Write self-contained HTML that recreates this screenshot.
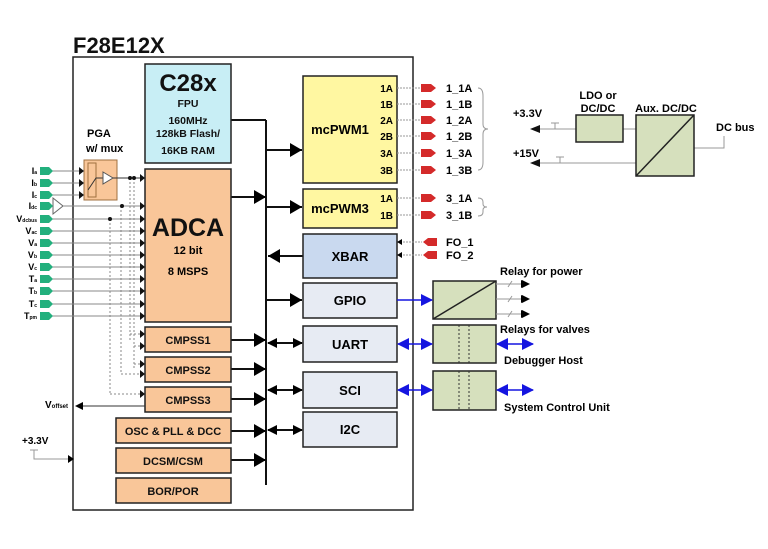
<!DOCTYPE html>
<html><head><meta charset="utf-8"><style>
body{margin:0;background:#fff;}
svg{display:block;font-family:"Liberation Sans",Arial,sans-serif;font-weight:bold;}
</style></head><body>
<svg width="768" height="549" viewBox="0 0 768 549" xmlns="http://www.w3.org/2000/svg">
<defs>
<marker id="a" markerWidth="8" markerHeight="8" refX="7" refY="4" orient="auto" markerUnits="userSpaceOnUse"><path d="M0,0 L8,4 L0,8z" fill="#000"/></marker>
<marker id="A" markerWidth="12" markerHeight="14" refX="12" refY="7" orient="auto" markerUnits="userSpaceOnUse"><path d="M0,0 L12,7 L0,14z" fill="#000"/></marker>
<marker id="b" markerWidth="12" markerHeight="12" refX="11" refY="6" orient="auto-start-reverse" markerUnits="userSpaceOnUse"><path d="M0,0 L12,6 L0,12z" fill="#1515e0"/></marker>
<marker id="k" markerWidth="10" markerHeight="10" refX="9" refY="5" orient="auto-start-reverse" markerUnits="userSpaceOnUse"><path d="M0,0 L10,5 L0,10z" fill="#000"/></marker>
</defs>
<text x="73" y="53" font-size="22" fill="#111">F28E12X</text>
<rect x="73" y="57" width="340" height="453" fill="#fff" stroke="#222" stroke-width="1.5"/>

<!-- bus -->
<line x1="266" y1="120" x2="266" y2="485" stroke="#111" stroke-width="2"/>
<line x1="231" y1="120" x2="266" y2="120" stroke="#111" stroke-width="2"/>
<line x1="266" y1="150" x2="302" y2="150" stroke="#111" stroke-width="2" marker-end="url(#A)"/>
<line x1="266" y1="207" x2="302" y2="207" stroke="#111" stroke-width="2" marker-end="url(#A)"/>
<line x1="231" y1="197" x2="266" y2="197" stroke="#111" stroke-width="2" marker-end="url(#A)"/>
<line x1="303" y1="256" x2="268" y2="256" stroke="#111" stroke-width="2" marker-end="url(#A)"/>
<line x1="266" y1="300" x2="302" y2="300" stroke="#111" stroke-width="2" marker-end="url(#A)"/>
<g stroke="#111" stroke-width="2">
<line x1="231" y1="340" x2="266" y2="340" marker-end="url(#A)"/>
<line x1="231" y1="369" x2="266" y2="369" marker-end="url(#A)"/>
<line x1="231" y1="399" x2="266" y2="399" marker-end="url(#A)"/>
<line x1="231" y1="431" x2="266" y2="431" marker-end="url(#A)"/>
<line x1="231" y1="460" x2="266" y2="460" marker-end="url(#A)"/>
<line x1="268" y1="343" x2="302" y2="343" marker-start="url(#k)" marker-end="url(#k)"/>
<line x1="268" y1="390" x2="302" y2="390" marker-start="url(#k)" marker-end="url(#k)"/>
<line x1="268" y1="430" x2="302" y2="430" marker-start="url(#k)" marker-end="url(#k)"/>
</g>

<!-- C28x -->
<rect x="145" y="64" width="86" height="99" fill="#c8eef5" stroke="#222" stroke-width="1.5"/>
<text x="188" y="91" font-size="24" text-anchor="middle" fill="#111">C28x</text>
<g font-size="10.5" text-anchor="middle" fill="#111">
<text x="188" y="107">FPU</text><text x="188" y="124">160MHz</text><text x="188" y="137">128kB Flash/</text><text x="188" y="154">16KB RAM</text></g>

<!-- ADCA -->
<rect x="145" y="169" width="86" height="153" fill="#f9c699" stroke="#222" stroke-width="1.5"/>
<text x="188" y="236" font-size="25" text-anchor="middle" fill="#111">ADCA</text>
<text x="188" y="254" font-size="11" text-anchor="middle">12 bit</text>
<text x="188" y="275" font-size="11" text-anchor="middle">8 MSPS</text>
<g fill="#f9c699" stroke="#222" stroke-width="1.5">
<rect x="145" y="327" width="86" height="25"/><rect x="145" y="357" width="86" height="25"/><rect x="145" y="387" width="86" height="25"/>
<rect x="116" y="418" width="115" height="25"/><rect x="116" y="448" width="115" height="25"/><rect x="116" y="478" width="115" height="25"/></g>
<g font-size="11" text-anchor="middle" fill="#111">
<text x="188" y="344">CMPSS1</text><text x="188" y="374">CMPSS2</text><text x="188" y="404">CMPSS3</text>
<text x="173" y="435">OSC &amp; PLL &amp; DCC</text><text x="173" y="465">DCSM/CSM</text><text x="173" y="495">BOR/POR</text></g>

<!-- PWM -->
<rect x="303" y="76" width="94" height="107" fill="#fff7a1" stroke="#222" stroke-width="1.5"/>
<text x="340" y="134" font-size="13" text-anchor="middle">mcPWM1</text>
<g font-size="10" text-anchor="end"><text x="393" y="92">1A</text><text x="393" y="108">1B</text><text x="393" y="124">2A</text><text x="393" y="140">2B</text><text x="393" y="157">3A</text><text x="393" y="174">3B</text></g>
<rect x="303" y="189" width="94" height="39" fill="#fff7a1" stroke="#222" stroke-width="1.5"/>
<text x="340" y="213" font-size="13" text-anchor="middle">mcPWM3</text>
<g font-size="10" text-anchor="end"><text x="393" y="202">1A</text><text x="393" y="219">1B</text></g>
<rect x="303" y="234" width="94" height="44" fill="#c9d9ef" stroke="#222" stroke-width="1.5"/>
<text x="350" y="261" font-size="13" text-anchor="middle">XBAR</text>
<g fill="#e7ebf3" stroke="#222" stroke-width="1.5">
<rect x="303" y="283" width="94" height="35"/><rect x="303" y="326" width="94" height="36"/><rect x="303" y="372" width="94" height="36"/><rect x="303" y="412" width="94" height="35"/></g>
<g font-size="13" text-anchor="middle"><text x="350" y="305">GPIO</text><text x="350" y="349">UART</text><text x="350" y="395">SCI</text><text x="350" y="434">I2C</text></g>

<!-- PWM outputs -->
<g stroke="#999" stroke-width="1" stroke-dasharray="2,1">
<line x1="397" y1="88" x2="422" y2="88"/><line x1="397" y1="104" x2="422" y2="104"/><line x1="397" y1="120" x2="422" y2="120"/><line x1="397" y1="136" x2="422" y2="136"/><line x1="397" y1="153" x2="422" y2="153"/><line x1="397" y1="170" x2="422" y2="170"/><line x1="397" y1="198" x2="422" y2="198"/><line x1="397" y1="215" x2="422" y2="215"/>
<line x1="400" y1="242" x2="422" y2="242"/><line x1="400" y1="255" x2="422" y2="255"/></g>
<g fill="#d42a2a">
<path d="M421,84h10l5,4l-5,4h-10z"/><path d="M421,100h10l5,4l-5,4h-10z"/><path d="M421,116h10l5,4l-5,4h-10z"/><path d="M421,132h10l5,4l-5,4h-10z"/><path d="M421,149h10l5,4l-5,4h-10z"/><path d="M421,166h10l5,4l-5,4h-10z"/><path d="M421,194h10l5,4l-5,4h-10z"/><path d="M421,211h10l5,4l-5,4h-10z"/>
<path d="M423,242l5,-4h9v8h-9z"/><path d="M423,255l5,-4h9v8h-9z"/></g>
<path d="M397,242l5,-3v6z M397,255l5,-3v6z" fill="#000"/>
<g font-size="11"><text x="446" y="92">1_1A</text><text x="446" y="108">1_1B</text><text x="446" y="124">1_2A</text><text x="446" y="140">1_2B</text><text x="446" y="157">1_3A</text><text x="446" y="174">1_3B</text><text x="446" y="202">3_1A</text><text x="446" y="219">3_1B</text><text x="446" y="246">FO_1</text><text x="446" y="259">FO_2</text></g>
<path d="M478,88 q5,0 5,8 v28 q0,5 5,5 q-5,0 -5,5 v28 q0,8 -5,8" fill="none" stroke="#999"/>
<path d="M478,198 q5,0 5,4 v2 q0,3 4,3 q-4,0 -4,3 v2 q0,4 -5,4" fill="none" stroke="#999"/>

<!-- power -->
<text x="513" y="117" font-size="11">+3.3V</text><text x="513" y="157" font-size="11">+15V</text>
<g stroke="#999" fill="none"><line x1="540" y1="129" x2="576" y2="129"/><line x1="540" y1="163" x2="636" y2="163"/><line x1="623" y1="129" x2="636" y2="129"/>
<path d="M555,129v-6m-4,0h8 M560,163v-6m-4,0h8"/><path d="M694,148h30v-12"/></g>
<path d="M530,129l10,-4v8z M530,163l10,-4v8z" fill="#111"/>
<text x="598" y="99" font-size="11" text-anchor="middle">LDO or</text><text x="598" y="112" font-size="11" text-anchor="middle">DC/DC</text>
<text x="666" y="112" font-size="11" text-anchor="middle">Aux. DC/DC</text>
<text x="716" y="131" font-size="11">DC bus</text>
<rect x="576" y="115" width="47" height="27" fill="#d6e0bd" stroke="#222" stroke-width="1.5"/>
<rect x="636" y="115" width="58" height="61" fill="#d6e0bd" stroke="#222" stroke-width="1.5"/>
<line x1="636" y1="176" x2="694" y2="115" stroke="#222" stroke-width="1.5"/>

<!-- relays -->
<text x="500" y="275" font-size="11">Relay for power</text>
<rect x="433" y="281" width="63" height="38" fill="#d6e0bd" stroke="#222" stroke-width="1.5"/>
<line x1="433" y1="319" x2="496" y2="281" stroke="#222" stroke-width="1.5"/>
<g stroke="#999"><line x1="496" y1="284" x2="528" y2="284" marker-end="url(#a)"/><line x1="496" y1="299" x2="528" y2="299" marker-end="url(#a)"/><line x1="496" y1="314" x2="528" y2="314" marker-end="url(#a)"/>
<path d="M508,287l4,-6 M508,302l4,-6 M508,317l4,-6"/></g>
<path d="M522,280l8,4l-8,4z M522,295l8,4l-8,4z M522,310l8,4l-8,4z" fill="#000"/>
<line x1="397" y1="300" x2="432" y2="300" stroke="#1515e0" stroke-width="1.5" marker-end="url(#b)"/>
<text x="500" y="333" font-size="11">Relays for valves</text>
<rect x="433" y="325" width="63" height="38" fill="#d6e0bd" stroke="#222" stroke-width="1.5"/>
<rect x="433" y="371" width="63" height="39" fill="#d6e0bd" stroke="#222" stroke-width="1.5"/>
<g stroke="#333" stroke-dasharray="2,2"><line x1="459" y1="325" x2="459" y2="363"/><line x1="469" y1="325" x2="469" y2="363"/><line x1="459" y1="371" x2="459" y2="410"/><line x1="469" y1="371" x2="469" y2="410"/></g>
<g stroke="#1515e0" stroke-width="1.5"><line x1="398" y1="344" x2="432" y2="344" marker-start="url(#b)" marker-end="url(#b)"/><line x1="398" y1="390" x2="432" y2="390" marker-start="url(#b)" marker-end="url(#b)"/>
<line x1="497" y1="344" x2="533" y2="344" marker-start="url(#b)" marker-end="url(#b)"/><line x1="497" y1="390" x2="533" y2="390" marker-start="url(#b)" marker-end="url(#b)"/></g>
<text x="504" y="364" font-size="11">Debugger Host</text>
<text x="504" y="411" font-size="11">System Control Unit</text>

<!-- PGA -->
<text x="87" y="137" font-size="11">PGA</text><text x="86" y="152" font-size="11">w/ mux</text>
<rect x="84" y="160" width="33" height="40" fill="#f9c699" stroke="#a07040"/>
<rect x="88" y="163" width="8" height="34" fill="none" stroke="#a07040"/>
<path d="M88,190 L96,178 L103,178" fill="none" stroke="#333"/>
<path d="M103,172 L113,178 L103,184z" fill="#fff" stroke="#555"/>
<line x1="113" y1="178" x2="143" y2="178" stroke="#333"/>
<path d="M53,198 L63,206 L53,214z" fill="#fff" stroke="#666"/>
<!-- inputs -->
<g stroke="#888" stroke-width="1">
<line x1="52" y1="171" x2="84" y2="171"/><line x1="52" y1="183" x2="84" y2="183"/><line x1="52" y1="195" x2="84" y2="195"/>
<line x1="63" y1="206" x2="143" y2="206"/><line x1="52" y1="219" x2="143" y2="219"/><line x1="52" y1="231" x2="143" y2="231"/><line x1="52" y1="243" x2="143" y2="243"/><line x1="52" y1="255" x2="143" y2="255"/><line x1="52" y1="267" x2="143" y2="267"/><line x1="52" y1="279" x2="143" y2="279"/><line x1="52" y1="291" x2="143" y2="291"/><line x1="52" y1="304" x2="143" y2="304"/><line x1="52" y1="316" x2="143" y2="316"/>
</g>
<g stroke="#888" stroke-dasharray="2,2"><line x1="130" y1="178" x2="130" y2="340"/><line x1="134" y1="178" x2="134" y2="369"/><line x1="121" y1="206" x2="121" y2="374"/><line x1="110" y1="219" x2="110" y2="394"/>
<line x1="130" y1="334" x2="143" y2="334"/><line x1="134" y1="346" x2="143" y2="346"/><line x1="121" y1="374" x2="143" y2="374"/><line x1="134" y1="364" x2="143" y2="364"/><line x1="110" y1="394" x2="143" y2="394"/></g>
<g fill="#111"><circle cx="130" cy="178" r="2"/><circle cx="134" cy="178" r="2"/><circle cx="122" cy="206" r="2"/><circle cx="110" cy="219" r="2"/>
<path d="M79,167l5,4l-5,4z M79,179l5,4l-5,4z M79,191l5,4l-5,4z"/>
<path d="M140,174l5,4l-5,4z M140,202l5,4l-5,4z M140,215l5,4l-5,4z M140,227l5,4l-5,4z M140,239l5,4l-5,4z M140,251l5,4l-5,4z M140,263l5,4l-5,4z M140,275l5,4l-5,4z M140,287l5,4l-5,4z M140,300l5,4l-5,4z M140,312l5,4l-5,4z M140,330l5,4l-5,4z M140,342l5,4l-5,4z M140,360l5,4l-5,4z M140,370l5,4l-5,4z M140,390l5,4l-5,4z"/></g>
<g fill="#22b07d">
<path d="M40,167h9l4,4l-4,4h-9z"/><path d="M40,179h9l4,4l-4,4h-9z"/><path d="M40,191h9l4,4l-4,4h-9z"/><path d="M40,202h9l4,4l-4,4h-9z"/><path d="M40,215h9l4,4l-4,4h-9z"/><path d="M40,227h9l4,4l-4,4h-9z"/><path d="M40,239h9l4,4l-4,4h-9z"/><path d="M40,251h9l4,4l-4,4h-9z"/><path d="M40,263h9l4,4l-4,4h-9z"/><path d="M40,275h9l4,4l-4,4h-9z"/><path d="M40,287h9l4,4l-4,4h-9z"/><path d="M40,300h9l4,4l-4,4h-9z"/><path d="M40,312h9l4,4l-4,4h-9z"/></g>
<g font-size="9" font-weight="bold" text-anchor="end">
<text x="37" y="174">I<tspan font-size="5">a</tspan></text><text x="37" y="186">I<tspan font-size="5">b</tspan></text><text x="37" y="198">I<tspan font-size="5">c</tspan></text><text x="37" y="209">I<tspan font-size="5">dc</tspan></text><text x="37" y="222">V<tspan font-size="5">dcbus</tspan></text><text x="37" y="234">V<tspan font-size="5">ac</tspan></text><text x="37" y="246">V<tspan font-size="5">a</tspan></text><text x="37" y="258">V<tspan font-size="5">b</tspan></text><text x="37" y="270">V<tspan font-size="5">c</tspan></text><text x="37" y="282">T<tspan font-size="5">a</tspan></text><text x="37" y="294">T<tspan font-size="5">b</tspan></text><text x="37" y="307">T<tspan font-size="5">c</tspan></text><text x="37" y="319">T<tspan font-size="5">pm</tspan></text></g>
<!-- Voffset -->
<line x1="145" y1="406" x2="76" y2="406" stroke="#333" marker-end="url(#a)"/>
<text x="45" y="408" font-size="10">V<tspan font-size="6">offset</tspan></text>
<text x="22" y="444" font-size="10">+3.3V</text>
<path d="M30,450h8m-4,0v9h38" fill="none" stroke="#999"/>
<path d="M68,455l6,4l-6,4z" fill="#000"/>
</svg>
</body></html>
